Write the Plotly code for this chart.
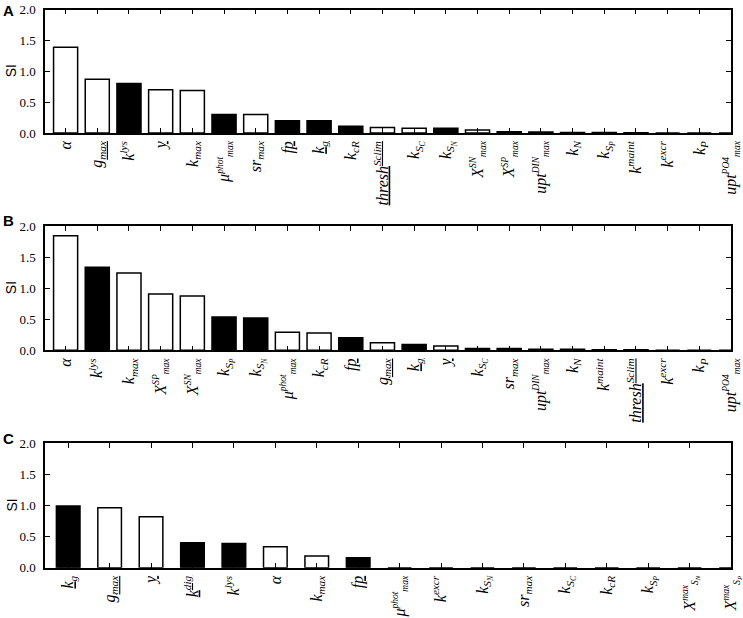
import plotly.graph_objects as go


def sm(t):
    # smaller script text for labels that carry both a super- and a subscript
    return '<span style="font-size:9.5px">' + t + '</span>'


# tick label markup for every model parameter
LABELS = {
    'alpha': 'α',
    'gmax': 'g<sub>max</sub>',
    'klys': 'k<sup>lys</sup>',
    'y': 'y',
    'kmax': 'k<sub>max</sub>',
    'muphot': 'μ<sup>' + sm('phot') + '</sup><sub>' + sm('max') + '</sub>',
    'srmax': 'sr<sub>max</sub>',
    'fp': 'fp',
    'kg': 'k<sub>g</sub>',
    'kcR': 'k<sub>cR</sub>',
    'thresh': 'thresh<sup>Sclim</sup>',
    'kSc': 'k<sub>S<sub>C</sub></sub>',
    'kSN': 'k<sub>S<sub>N</sub></sub>',
    'XSN': 'X<sup>' + sm('SN') + '</sup><sub>' + sm('max') + '</sub>',
    'XSP': 'X<sup>' + sm('SP') + '</sup><sub>' + sm('max') + '</sub>',
    'uptDIN': 'upt<sup>' + sm('DIN') + '</sup><sub>' + sm('max') + '</sub>',
    'kN': 'k<sub>N</sub>',
    'kSP': 'k<sub>S<sub>P</sub></sub>',
    'kmaint': 'k<sup>maint</sup>',
    'kexcr': 'k<sup>excr</sup>',
    'kP': 'k<sub>P</sub>',
    'uptPO4': 'upt<sup>' + sm('PO4') + '</sup><sub>' + sm('max') + '</sub>',
    'kdig': 'k<sup>dig</sup>',
    'XmaxSN': 'X<sup>' + sm('max') + '</sup><sub>' + sm('S<sub>N</sub>') + '</sub>',
    'XmaxSP': 'X<sup>' + sm('max') + '</sup><sub>' + sm('S<sub>P</sub>') + '</sub>',
}
UNDERLINED = ['gmax', 'y', 'fp', 'kg', 'thresh', 'kdig']

# panel A
params_a = ['alpha', 'gmax', 'klys', 'y', 'kmax', 'muphot', 'srmax', 'fp', 'kg', 'kcR',
            'thresh', 'kSc', 'kSN', 'XSN', 'XSP', 'uptDIN', 'kN', 'kSP', 'kmaint',
            'kexcr', 'kP', 'uptPO4']
si_a = [1.39, 0.87, 0.80, 0.70, 0.69, 0.30, 0.30, 0.20, 0.20, 0.11,
        0.09, 0.075, 0.075, 0.05, 0.02, 0.015, 0.008, 0.008, 0.006,
        0.0, 0.0, 0.0]
dark_a = ['klys', 'muphot', 'fp', 'kg', 'kcR', 'kSN', 'XSP', 'uptDIN', 'kN', 'kSP', 'kmaint']

# panel B
params_b = ['alpha', 'klys', 'kmax', 'XSP', 'XSN', 'kSP', 'kSN', 'muphot', 'kcR', 'fp',
            'gmax', 'kg', 'y', 'kSc', 'srmax', 'uptDIN', 'kN', 'kmaint', 'thresh',
            'kexcr', 'kP', 'uptPO4']
si_b = [1.845, 1.335, 1.245, 0.905, 0.875, 0.535, 0.52, 0.29, 0.28, 0.20,
        0.12, 0.095, 0.07, 0.03, 0.027, 0.016, 0.015, 0.01, 0.01,
        0.0, 0.0, 0.0]
dark_b = ['klys', 'kSP', 'kSN', 'fp', 'kg', 'kSc', 'srmax', 'uptDIN', 'kN']

# panel C
params_c = ['kg', 'gmax', 'y', 'kdig', 'klys', 'alpha', 'kmax', 'fp', 'muphot', 'kexcr',
            'kSN', 'srmax', 'kSc', 'kcR', 'kSP', 'XmaxSN', 'XmaxSP']
si_c = [0.99, 0.965, 0.82, 0.40, 0.39, 0.335, 0.19, 0.16, 0.0, 0.0,
        0.0, 0.0, 0.0, 0.0, 0.0, 0.0, 0.0]
dark_c = ['kg', 'kdig', 'klys', 'fp']

Y_TICKS = [0.0, 0.5, 1.0, 1.5, 2.0]

W, H = 743, 618
X0, X1 = 45, 731
panels = [
    # (params, values, dark, top px, bottom px, x range, bar width, letter)
    (params_a, si_a, dark_a, 9.5, 133, [-0.65, 21], 0.76, 'A'),
    (params_b, si_b, dark_b, 226, 350.3, [-0.65, 21], 0.76, 'B'),
    (params_c, si_c, dark_c, 443.3, 567.7, [-0.56, 16], 0.57, 'C'),
]


def tick_label(p):
    txt = '<i>' + LABELS[p] + '</i>'
    if p in UNDERLINED:
        txt = '<u>' + txt + '</u>'
    return txt


fig = go.Figure()
annotations = []
letter_y = [10, 220, 438]

for i, (params, vals, dark, top, bot, xr, bw, letter) in enumerate(panels):
    n = '' if i == 0 else str(i + 1)
    fig.add_trace(go.Bar(
        x=list(range(len(params))),
        y=vals,
        width=bw,
        marker=dict(color=['black' if p in dark else 'white' for p in params],
                    line=dict(color='black', width=1.5)),
        xaxis='x' + n,
        yaxis='y' + n,
        hoverinfo='skip',
    ))
    axis_common = dict(
        showline=True, linecolor='black', linewidth=1.5, mirror='ticks',
        ticks='inside', ticklen=5, tickwidth=1, tickcolor='black',
        showgrid=False, zeroline=False, automargin=False,
    )
    fig.layout['xaxis' + n] = dict(
        domain=[X0 / W, X1 / W], anchor='y' + n, range=xr,
        tickvals=list(range(len(params))),
        ticktext=[tick_label(p) for p in params],
        tickangle=-90,
        tickfont=dict(family='Liberation Serif', size=16, color='black'),
        **axis_common,
    )
    fig.layout['yaxis' + n] = dict(
        domain=[1 - bot / H, 1 - top / H], anchor='x' + n, range=[0, 2],
        tickvals=Y_TICKS, ticktext=['%.1f' % v for v in Y_TICKS],
        tickfont=dict(family='Liberation Serif', size=13, color='black'),
        ticklabelstandoff=5,
        **axis_common,
    )
    annotations.append(dict(
        text='SI', xref='paper', yref='paper', x=11 / W, y=1 - (top + bot) / 2 / H,
        textangle=-90, showarrow=False, xanchor='center', yanchor='middle',
        font=dict(family='Liberation Sans', size=14, color='black'),
    ))
    annotations.append(dict(
        text='<b>' + letter + '</b>', xref='paper', yref='paper', x=8 / W,
        y=1 - letter_y[i] / H, showarrow=False, xanchor='center', yanchor='middle',
        font=dict(family='Liberation Sans', size=15, color='black'),
    ))

fig.update_layout(
    width=W, height=H,
    margin=dict(l=0, r=0, t=0, b=0, autoexpand=False),
    paper_bgcolor='white', plot_bgcolor='white',
    showlegend=False,
    annotations=annotations,
)

fig.write_html('out.html', config={'displayModeBar': False},
               post_script="document.body.style.margin='0';")
